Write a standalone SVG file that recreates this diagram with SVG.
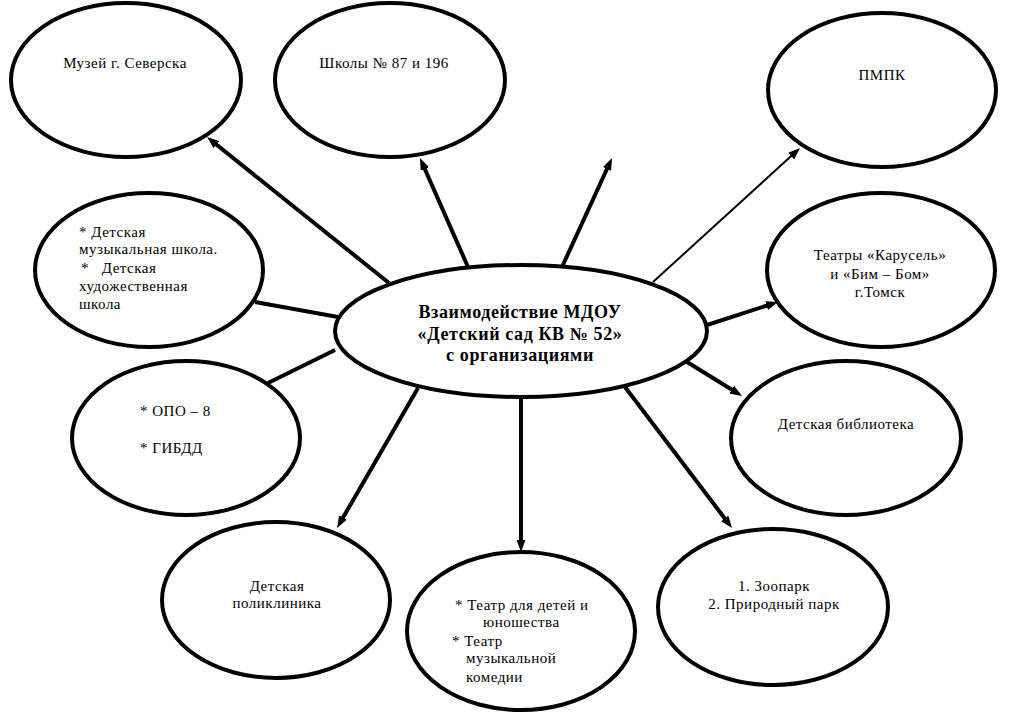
<svg xmlns="http://www.w3.org/2000/svg" width="1009" height="722" viewBox="0 0 1009 722">
<style>
.node ellipse{fill:#fff;stroke:#000;stroke-width:4}
.t{font-family:'Liberation Serif','Times New Roman',serif;font-size:15px;letter-spacing:0.5px;fill:#000}
.c{text-anchor:middle}
.hub{font-family:'Liberation Serif','Times New Roman',serif;font-size:18px;letter-spacing:0.6px;font-weight:bold;text-anchor:middle;fill:#000}
.ln{stroke:#000;stroke-width:4;fill:none}
.thin{stroke-width:2}
.ar{marker-end:url(#ah)}
</style>
<defs>
<marker id="ah" markerUnits="userSpaceOnUse" markerWidth="12" markerHeight="9" viewBox="0 0 12 9" refX="6" refY="4.5" orient="auto">
<path d="M0,0 L12,4.5 L0,9 z" fill="#000"/>
</marker>
</defs>
<rect width="1009" height="722" fill="#fff"/>
<g id="connectors">
<line class="ln ar" x1="389" y1="283" x2="211.7" y2="140.8"/>
<line class="ln ar" x1="468" y1="267" x2="422.4" y2="163.5"/>
<line class="ln ar" x1="562" y1="267" x2="609.5" y2="163.5"/>
<line class="ln thin ar" x1="653" y1="282" x2="795.6" y2="152"/>
<line class="ln ar" x1="707" y1="325" x2="772.3" y2="303.8"/>
<line class="ln ar" x1="687" y1="362" x2="736.9" y2="392.8"/>
<line class="ln ar" x1="625" y1="387" x2="728.4" y2="523.2"/>
<line class="ln ar" x1="521" y1="398" x2="521" y2="546"/>
<line class="ln ar" x1="418" y1="388" x2="340" y2="522.8"/>
<line class="ln" x1="338" y1="317" x2="255" y2="302"/>
<line class="ln" x1="335" y1="350" x2="268" y2="383"/>
</g>
<g id="hub" class="node">
<ellipse cx="521" cy="331" rx="186" ry="66"/>
<text class="hub" x="520" y="318">Взаимодействие  МДОУ</text>
<text class="hub" x="520" y="340">«Детский сад  КВ № 52»</text>
<text class="hub" x="520" y="361">с организациями</text>
</g>
<g id="museum" class="node">
<ellipse cx="126" cy="80" rx="115" ry="77"/>
<text class="t c" x="125" y="68">Музей г. Северска</text>
</g>
<g id="schools" class="node">
<ellipse cx="390" cy="80" rx="115" ry="77"/>
<text class="t c" x="384" y="68">Школы № 87 и 196</text>
</g>
<g id="pmpk" class="node">
<ellipse cx="882" cy="90" rx="114" ry="77"/>
<text class="t c" x="882" y="80">ПМПК</text>
</g>
<g id="art-schools" class="node">
<ellipse cx="149" cy="270" rx="114" ry="77"/>
<text class="t" x="79" y="237">* Детская</text>
<text class="t" x="79" y="254">музыкальная школа.</text>
<text class="t" x="81" y="273" xml:space="preserve">*   Детская</text>
<text class="t" x="79" y="291">художественная</text>
<text class="t" x="79" y="309">школа</text>
</g>
<g id="opo" class="node">
<ellipse cx="186" cy="438" rx="114" ry="77"/>
<text class="t" x="140" y="416">* ОПО – 8</text>
<text class="t" x="140" y="453">* ГИБДД</text>
</g>
<g id="theatres" class="node">
<ellipse cx="881" cy="270" rx="114" ry="77"/>
<text class="t c" x="880" y="260">Театры «Карусель»</text>
<text class="t c" x="880" y="279">и «Бим – Бом»</text>
<text class="t c" x="880" y="297">г.Томск</text>
</g>
<g id="library" class="node">
<ellipse cx="846" cy="438" rx="115" ry="77"/>
<text class="t c" x="846" y="429">Детская библиотека</text>
</g>
<g id="clinic" class="node">
<ellipse cx="276" cy="600" rx="114" ry="78"/>
<text class="t c" x="277" y="591">Детская</text>
<text class="t c" x="277" y="608">поликлиника</text>
</g>
<g id="youth-theatre" class="node">
<ellipse cx="521" cy="631" rx="114" ry="79"/>
<text class="t" x="455" y="610">* Театр для детей и</text>
<text class="t" x="483" y="627">юношества</text>
<text class="t" x="452" y="646">* Театр</text>
<text class="t" x="466" y="663">музыкальной</text>
<text class="t" x="466" y="682">комедии</text>
</g>
<g id="zoo" class="node">
<ellipse cx="773" cy="607" rx="115" ry="78"/>
<text class="t c" x="774" y="591">1. Зоопарк</text>
<text class="t c" x="774" y="609">2. Природный парк</text>
</g>
</svg>
